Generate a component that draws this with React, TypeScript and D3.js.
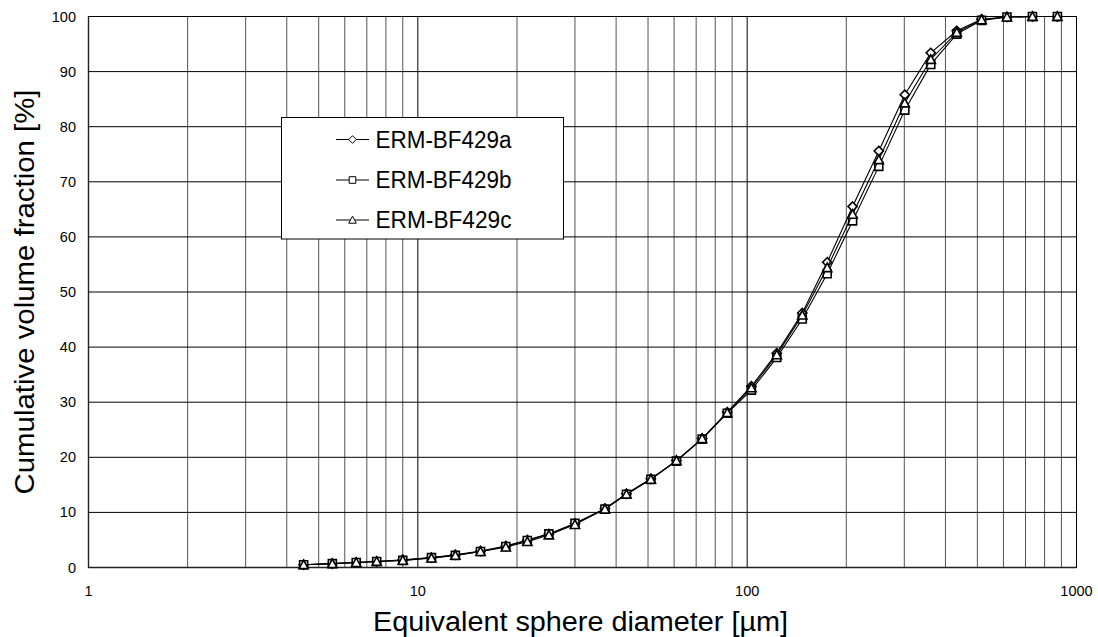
import React from "react";
import * as d3 from "d3";

const sizes = [4.5, 5.5, 6.5, 7.5, 9, 11, 13, 15.5, 18.5, 21.5, 25, 30, 37, 43, 51, 61, 73, 87, 103, 123, 147, 175, 209, 251, 301, 361, 433, 515, 615, 735, 875];
const seriesA = [0.5, 0.7, 0.9, 1.1, 1.4, 1.8, 2.3, 3.0, 3.9, 5.0, 6.1, 8.0, 10.7, 13.4, 16.1, 19.4, 23.4, 28.2, 32.9, 38.9, 46.2, 55.4, 65.5, 75.6, 85.8, 93.4, 97.4, 99.5, 99.9, 100, 100];
const seriesB = [0.5, 0.7, 0.9, 1.1, 1.3, 1.8, 2.2, 2.9, 3.8, 4.9, 6.1, 8.0, 10.6, 13.3, 16.0, 19.3, 23.3, 28.0, 32.2, 38.1, 45.1, 53.3, 62.9, 72.8, 83.0, 91.3, 96.8, 99.3, 99.9, 100, 100];
const seriesC = [0.5, 0.7, 0.9, 1.1, 1.3, 1.7, 2.2, 2.9, 3.7, 4.7, 5.9, 7.8, 10.6, 13.3, 16.0, 19.4, 23.4, 28.1, 32.6, 38.6, 45.8, 54.4, 64.1, 74.0, 84.3, 92.2, 97.1, 99.4, 99.9, 100, 100];
const seriesNames = ["ERM-BF429a", "ERM-BF429b", "ERM-BF429c"];
const markerKinds = ["diamond", "square", "triangle"];
const xTickLabels = [1, 10, 100, 1000];
const yTickLabels = [0, 10, 20, 30, 40, 50, 60, 70, 80, 90, 100];
const xTitle = "Equivalent sphere diameter [µm]";
const yTitle = "Cumulative volume fraction [%]";

const W = 1098;
const H = 637;
const L = 88.5;
const R = 1076.5;
const T = 16.5;
const B = 567.5;
const FONT = "'Liberation Sans', Arial, Helvetica, sans-serif";

function markerPath(kind: string, r: number): string {
  if (kind === "diamond") return `M0,${-r}L${r},0L0,${r}L${-r},0Z`;
  if (kind === "square") return `M${-r},${-r}H${r}V${r}H${-r}Z`;
  return `M0,${-r}L${r},${r * 0.85}L${-r},${r * 0.85}Z`;
}

export default function App() {
  const x = d3.scaleLog().domain([1, 1000]).range([L, R]);
  const y = d3.scaleLinear().domain([0, 100]).range([B, T]);
  const all = [seriesA, seriesB, seriesC];

  const minorX: number[] = [];
  for (let dec = 1; dec < 1000; dec *= 10) {
    for (let k = 2; k <= 9; k++) minorX.push(dec * k);
  }
  const majorX = [10, 100];

  const line = d3
    .line<number>()
    .x((_, i) => x(sizes[i]))
    .y((v) => y(v));

  const legendX0 = 281.5;
  const legendY0 = 117.5;
  const legendRows = [139.5, 180, 220];

  return (
    <svg
      width={W}
      height={H}
      style={{ position: "absolute", left: 0, top: 0, background: "#fff" }}
      fontFamily={FONT}
    >
      <rect x={0} y={0} width={W} height={H} fill="#fff" />
      {/* minor vertical grid */}
      {minorX.map((v) => (
        <line key={"mx" + v} x1={x(v)} x2={x(v)} y1={T} y2={B} stroke="#555" strokeWidth={1} />
      ))}
      {majorX.map((v) => (
        <line key={"Mx" + v} x1={x(v)} x2={x(v)} y1={T} y2={B} stroke="#000" strokeWidth={1} />
      ))}
      {yTickLabels.slice(1, -1).map((v) => (
        <line key={"gy" + v} x1={L} x2={R} y1={y(v)} y2={y(v)} stroke="#000" strokeWidth={1} />
      ))}
      {/* frame */}
      <rect x={L} y={T} width={R - L} height={B - T} fill="none" stroke="#000" strokeWidth={1} />
      <line x1={L} x2={R} y1={B} y2={B} stroke="#222" strokeWidth={1.6} />
      <line x1={L} x2={L} y1={T} y2={B} stroke="#222" strokeWidth={1.4} />

      {/* y tick labels */}
      {yTickLabels.map((v) => (
        <text key={"yt" + v} x={76} y={y(v) + 5} textAnchor="end" fontSize={14.5} fill="#000">
          {v}
        </text>
      ))}
      {/* x tick labels */}
      {xTickLabels.map((v) => (
        <text key={"xt" + v} x={x(v)} y={596} textAnchor="middle" fontSize={14.5} fill="#000">
          {v}
        </text>
      ))}

      {/* series */}
      {all.map((s, si) => (
        <g key={"s" + si}>
          <path d={line(s) || ""} fill="none" stroke="#000" strokeWidth={1.1} />
          {s.map((v, i) => (
            <path
              key={i}
              transform={`translate(${x(sizes[i])},${y(v)})`}
              d={markerPath(markerKinds[si], si === 1 ? 4 : 4.6)}
              fill="#fff"
              stroke="#000"
              strokeWidth={1.6}
            />
          ))}
        </g>
      ))}

      {/* legend */}
      <rect x={legendX0} y={legendY0} width={282} height={121.5} fill="#fff" stroke="#000" strokeWidth={1} />
      {seriesNames.map((n, i) => (
        <g key={"lg" + i}>
          <line x1={336} x2={369} y1={legendRows[i]} y2={legendRows[i]} stroke="#000" strokeWidth={1} />
          <path
            transform={`translate(352.5,${legendRows[i]})`}
            d={markerPath(markerKinds[i], i === 1 ? 3.3 : 3.8)}
            fill="#fff"
            stroke="#000"
            strokeWidth={1}
          />
          <text x={375.5} y={legendRows[i] + 8.2} fontSize={23} fill="#000" textLength={136} lengthAdjust="spacingAndGlyphs">
            {n}
          </text>
        </g>
      ))}

      {/* axis titles */}
      <text x={580.5} y={631} textAnchor="middle" fontSize={27} fill="#000" textLength={415} lengthAdjust="spacingAndGlyphs">
        {xTitle}
      </text>
      <text
        transform={`translate(33.5,${(T + B) / 2}) rotate(-90)`}
        textAnchor="middle"
        fontSize={27}
        fill="#000"
        textLength={405}
        lengthAdjust="spacingAndGlyphs"
      >
        {yTitle}
      </text>
    </svg>
  );
}
